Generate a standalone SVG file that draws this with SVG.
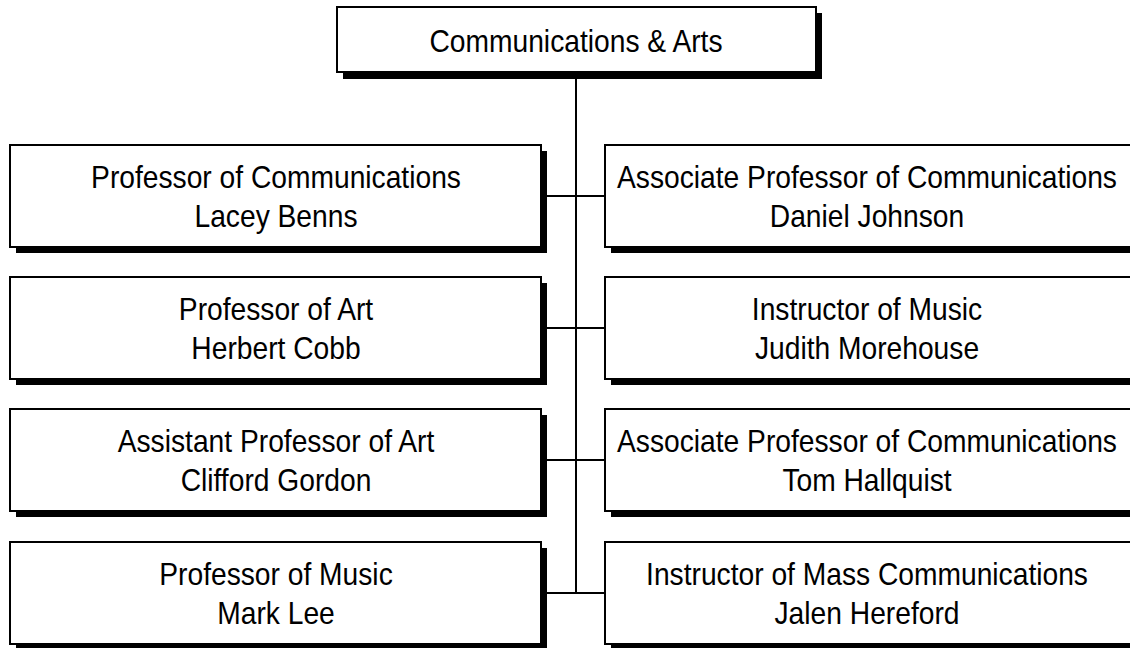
<svg xmlns="http://www.w3.org/2000/svg" width="1130" height="648" viewBox="0 0 1130 648">
<style>
.box{fill:#fff;stroke:#000;stroke-width:2}
.sh{fill:#000}
.t{font-family:"Liberation Sans",Arial,sans-serif;font-size:31px;fill:#000;text-anchor:middle}
.c{stroke:#000;stroke-width:2;fill:none}
</style>
<rect width="1130" height="648" fill="#fff"/>
<g id="connectors">
<line class="c" x1="576" y1="72" x2="576" y2="594"/>
<line class="c" x1="541" y1="196" x2="605" y2="196"/>
<line class="c" x1="541" y1="328" x2="605" y2="328"/>
<line class="c" x1="541" y1="460" x2="605" y2="460"/>
<line class="c" x1="541" y1="593" x2="605" y2="593"/>
</g>
<g id="top">
<rect class="sh" x="343" y="13" width="479" height="66"/>
<rect class="box" x="337" y="7" width="479" height="65"/>
<text class="t" transform="translate(576,52) scale(0.91,1)">Communications &amp; Arts</text>
</g>
<g id="l1">
<rect class="sh" x="16" y="151" width="531" height="102"/>
<rect class="box" x="10" y="145" width="531" height="102"/>
<text class="t" transform="translate(276,188) scale(0.91,1)">Professor of Communications</text>
<text class="t" transform="translate(276,227) scale(0.91,1)">Lacey Benns</text>
</g>
<g id="r1">
<rect class="sh" x="611" y="151" width="531" height="102"/>
<rect class="box" x="605" y="145" width="531" height="102"/>
<text class="t" transform="translate(867,188) scale(0.91,1)">Associate Professor of Communications</text>
<text class="t" transform="translate(867,227) scale(0.91,1)">Daniel Johnson</text>
</g>
<g id="l2">
<rect class="sh" x="16" y="283" width="531" height="102"/>
<rect class="box" x="10" y="277" width="531" height="102"/>
<text class="t" transform="translate(276,320) scale(0.91,1)">Professor of Art</text>
<text class="t" transform="translate(276,359) scale(0.91,1)">Herbert Cobb</text>
</g>
<g id="r2">
<rect class="sh" x="611" y="283" width="531" height="102"/>
<rect class="box" x="605" y="277" width="531" height="102"/>
<text class="t" transform="translate(867,320) scale(0.91,1)">Instructor of Music</text>
<text class="t" transform="translate(867,359) scale(0.91,1)">Judith Morehouse</text>
</g>
<g id="l3">
<rect class="sh" x="16" y="415" width="531" height="102"/>
<rect class="box" x="10" y="409" width="531" height="102"/>
<text class="t" transform="translate(276,452) scale(0.91,1)">Assistant Professor of Art</text>
<text class="t" transform="translate(276,491) scale(0.91,1)">Clifford Gordon</text>
</g>
<g id="r3">
<rect class="sh" x="611" y="415" width="531" height="102"/>
<rect class="box" x="605" y="409" width="531" height="102"/>
<text class="t" transform="translate(867,452) scale(0.91,1)">Associate Professor of Communications</text>
<text class="t" transform="translate(867,491) scale(0.91,1)">Tom Hallquist</text>
</g>
<g id="l4">
<rect class="sh" x="16" y="548" width="531" height="102"/>
<rect class="box" x="10" y="542" width="531" height="102"/>
<text class="t" transform="translate(276,585) scale(0.91,1)">Professor of Music</text>
<text class="t" transform="translate(276,624) scale(0.91,1)">Mark Lee</text>
</g>
<g id="r4">
<rect class="sh" x="611" y="548" width="531" height="102"/>
<rect class="box" x="605" y="542" width="531" height="102"/>
<text class="t" transform="translate(867,585) scale(0.91,1)">Instructor of Mass Communications</text>
<text class="t" transform="translate(867,624) scale(0.91,1)">Jalen Hereford</text>
</g>
</svg>
